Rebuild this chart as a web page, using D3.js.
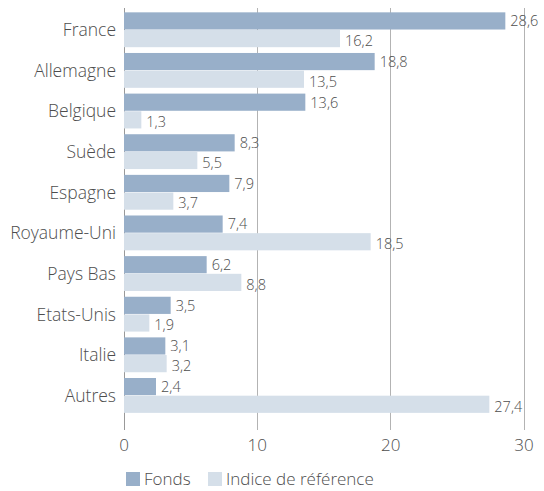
<!DOCTYPE html>
<html>
<head>
<meta charset="utf-8">
<script src="https://cdn.jsdelivr.net/npm/d3@7"></script>
<style>
  body { margin: 0; background: #fff; }
  text { font-family: "Open Sans", sans-serif; fill: #4d4d4d; font-weight: 300; }
</style>
</head>
<body>
<div id="chart"></div>
<script>
// data
var pays = ["France", "Allemagne", "Belgique", "Suède", "Espagne", "Royaume-Uni",
            "Pays Bas", "Etats-Unis", "Italie", "Autres"];
var fonds = [28.6, 18.8, 13.6, 8.3, 7.9, 7.4, 6.2, 3.5, 3.1, 2.4];
var indice = [16.2, 13.5, 1.3, 5.5, 3.7, 18.5, 8.8, 1.9, 3.2, 27.4];
var series = ["Fonds", "Indice de référence"];
var xTicks = [0, 10, 20, 30];

var colors = ["#98afc9", "#d5dfe9"];

var width = 544, height = 491;
var margin = {left: 124, right: 20};

var svg = d3.select("#chart").append("svg")
    .attr("width", width)
    .attr("height", height);

var x = d3.scaleLinear()
    .domain([0, 30])
    .range([margin.left, width - margin.right]);

var y = d3.scaleBand()
    .domain(pays)
    .range([9.7, 416])
    .paddingInner(0.13)
    .paddingOuter(0.065);

var y1 = d3.scaleBand()
    .domain(series)
    .range([0, y.bandwidth()]);

// gridlines
svg.append("g")
    .selectAll("line")
    .data(xTicks)
    .enter().append("line")
    .attr("x1", function(d) { return x(d); })
    .attr("x2", function(d) { return x(d); })
    .attr("y1", 8)
    .attr("y2", 430)
    .attr("stroke", function(d) { return d == 0 ? "#999" : "#b3b3b3"; })
    .attr("stroke-width", 1)
    .attr("shape-rendering", "crispEdges");

// tick labels
svg.append("g")
    .selectAll("text")
    .data(xTicks)
    .enter().append("text")
    .attr("x", function(d) { return x(d); })
    .attr("y", 451)
    .attr("text-anchor", "middle")
    .style("font-size", "17px")
    .text(function(d) { return d; });

var rows = svg.append("g")
    .selectAll("g")
    .data(pays)
    .enter().append("g")
    .attr("transform", function(d) { return "translate(0," + y(d) + ")"; });

rows.append("text")
    .attr("x", margin.left - 8)
    .attr("y", y.bandwidth() / 2)
    .attr("dy", "0.35em")
    .attr("text-anchor", "end")
    .style("font-size", "17.5px")
    .text(function(d) { return d; });

var fmt = function(v) { return String(v.toFixed(1)).replace(".", ","); };

rows.each(function(p, i) {
    var g = d3.select(this);
    var vals = [fonds[i], indice[i]];
    vals.forEach(function(v, j) {
        g.append("rect")
            .attr("x", x(0))
            .attr("y", y1(series[j]))
            .attr("width", x(v) - x(0))
            .attr("height", y1.bandwidth() - 0.5)
            .attr("fill", colors[j]);
        g.append("text")
            .attr("x", x(v) + 5)
            .attr("y", y1(series[j]) + y1.bandwidth() / 2 + (j == 1 ? 2 : 0))
            .attr("dy", "0.35em")
            .style("font-size", "14.5px")
            .text(fmt(v));
    });
});

// legend
var legend = svg.append("g")
    .attr("transform", "translate(126,472)");
var lx = [0, 82];
series.forEach(function(s, j) {
    legend.append("rect")
        .attr("x", lx[j])
        .attr("y", 0)
        .attr("width", 14)
        .attr("height", 14)
        .attr("fill", colors[j]);
    legend.append("text")
        .attr("x", lx[j] + 18)
        .attr("y", 7)
        .attr("dy", "0.35em")
        .style("font-size", "17px")
        .text(s);
});
</script>
</body>
</html>
